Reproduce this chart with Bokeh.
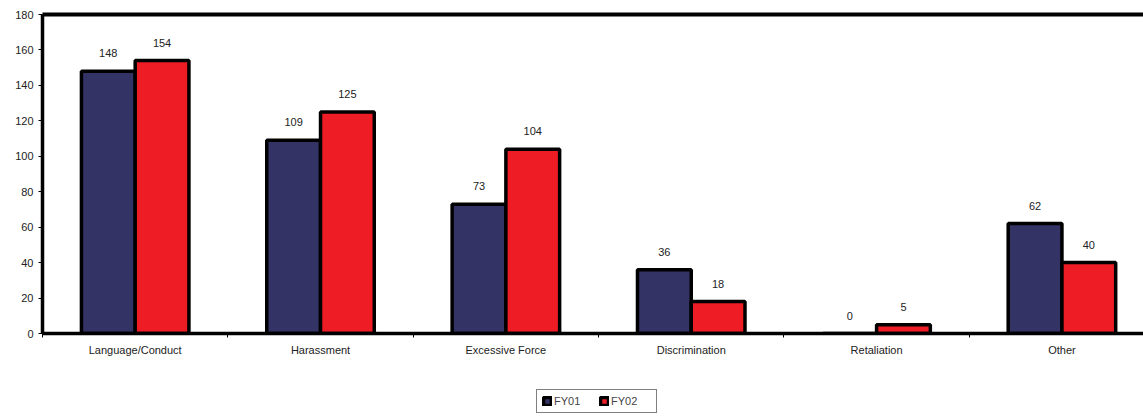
from bokeh.plotting import figure
from bokeh.models import (Range1d, FixedTicker, LinearAxis, ColumnDataSource, LabelSet,
                          Legend, LegendItem)
from bokeh.layouts import column
from bokeh.core.properties import value
from bokeh.embed import file_html
from bokeh.resources import INLINE

categories = ["Language/Conduct", "Harassment", "Excessive Force", "Discrimination", "Retaliation", "Other"]
fy01 = [148, 109, 73, 36, 0, 62]
fy02 = [154, 125, 104, 18, 5, 40]
series_names = ["FY01", "FY02"]
colors = ["#333366", "#EE1C25"]
y_ticks = [0, 20, 40, 60, 80, 100, 120, 140, 160, 180]

FONT = "Liberation Sans"
bw = 0.29
n = len(categories)

p = figure(width=1143, height=385, output_backend="svg", toolbar_location=None,
           x_range=Range1d(0, 5.94), y_range=Range1d(0, 180),
           min_border_left=42, min_border_right=0, min_border_top=14, min_border_bottom=52,
           x_axis_type=None, y_axis_type=None)
p.outline_line_color = None
p.background_fill_color = "white"
p.border_fill_color = "white"

centers = [i + 0.5 for i in range(n)]
src1 = ColumnDataSource(dict(x=[c - bw / 2 for c in centers], top=fy01, lab=[str(v) for v in fy01]))
src2 = ColumnDataSource(dict(x=[c + bw / 2 for c in centers], top=fy02, lab=[str(v) for v in fy02]))

bar_style = dict(line_color="black", line_width=3.5)
p.vbar(x="x", top="top", width=bw, bottom=0, source=src1, fill_color=colors[0], **bar_style)
p.vbar(x="x", top="top", width=bw, bottom=0, source=src2, fill_color=colors[1], **bar_style)

for s in (src1, src2):
    p.add_layout(LabelSet(x="x", y="top", text="lab", source=s, y_offset=18,
                          text_align="center", text_baseline="middle",
                          text_font=value(FONT), text_font_size="11px", text_color="#222222"))

# y axis
yax = LinearAxis(ticker=FixedTicker(ticks=y_ticks, minor_ticks=[]))
yax.axis_line_width = 3.5
yax.axis_line_color = "black"
yax.major_tick_out = 4
yax.major_tick_in = 0
yax.major_tick_line_color = "black"
yax.major_label_text_font = FONT
yax.major_label_text_font_size = "11px"
yax.major_label_text_color = "#222222"
yax.major_label_standoff = 5
p.add_layout(yax, "left")

# x axis
xax = LinearAxis(ticker=FixedTicker(ticks=centers, minor_ticks=list(range(n + 1))))
xax.major_label_overrides = {c: name for c, name in zip(centers, categories)}
xax.axis_line_width = 3.5
xax.axis_line_color = "black"
xax.major_tick_line_color = None
xax.minor_tick_out = 4
xax.minor_tick_in = 0
xax.minor_tick_line_color = "black"
xax.major_label_text_font = FONT
xax.major_label_text_font_size = "11px"
xax.major_label_text_color = "#222222"
xax.major_label_standoff = 4
p.add_layout(xax, "below")

# top border
tax = LinearAxis(ticker=FixedTicker(ticks=[]))
tax.axis_line_width = 4
tax.axis_line_color = "black"
tax.major_label_text_font_size = "0px"
p.add_layout(tax, "above")

p.xgrid.visible = False
p.ygrid.ticker = FixedTicker(ticks=y_ticks[1:-1])
p.ygrid.grid_line_color = "black"
p.ygrid.grid_line_width = 1

# legend strip (the legend proxies sit hidden behind the opaque legend box)
lf = figure(width=1143, height=32, output_backend="svg", toolbar_location=None,
            x_range=Range1d(0, 1), y_range=Range1d(0, 1),
            min_border=0, x_axis_type=None, y_axis_type=None)
lf.outline_line_color = None
lf.xgrid.visible = False
lf.ygrid.visible = False
lsrc = ColumnDataSource(dict(x=[0.522], top=[0.5]))
l1 = lf.vbar(x="x", top="top", bottom=0.35, width=0.002, source=lsrc,
             fill_color=colors[0], **bar_style)
l2 = lf.vbar(x="x", top="top", bottom=0.35, width=0.002, source=lsrc,
             fill_color=colors[1], **bar_style)

legend = Legend(items=[LegendItem(label=series_names[0], renderers=[l1]),
                       LegendItem(label=series_names[1], renderers=[l2])],
                location=(494, 4), orientation="horizontal")
legend.border_line_color = "black"
legend.border_line_width = 1
legend.background_fill_color = "white"
legend.background_fill_alpha = 1
legend.label_text_font = FONT
legend.label_text_font_size = "11px"
legend.glyph_width = 10
legend.glyph_height = 10
legend.padding = 5
legend.spacing = 5
legend.label_standoff = 2
legend.label_width = 40
legend.margin = 0
legend.label_height = 10
lf.add_layout(legend, "center")

layout = column(p, lf, spacing=0)
open("out.html", "w").write(file_html(layout, INLINE))
